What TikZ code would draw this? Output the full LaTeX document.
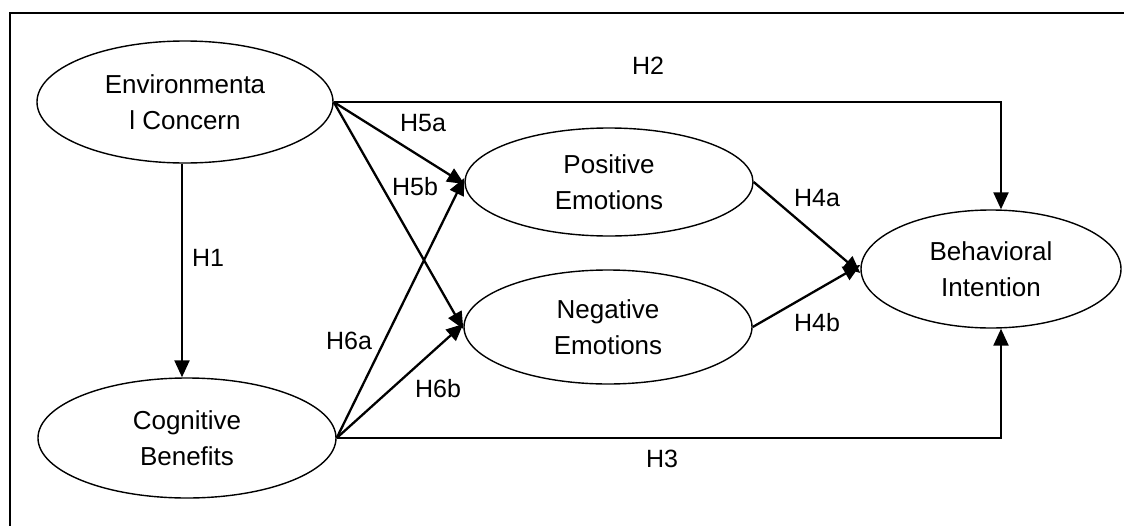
\documentclass[tikz,border=0pt]{standalone}
\usepackage{fontspec}
\setmainfont{Liberation Sans}
\usetikzlibrary{shapes.geometric,arrows.meta}
\begin{document}
\begin{tikzpicture}[x=1pt,y=-1pt,
  construct/.style={draw, line width=1.4pt, ellipse, inner sep=0pt, align=center,
     font=\fontsize{26}{36}\selectfont},
  hlabel/.style={inner sep=0pt, font=\fontsize{25}{30}\selectfont},
  hpath/.style={draw, line width=2.3pt, -{Triangle[length=17pt,width=15pt]}},
  frameline/.style={draw, line width=2pt}]
\useasboundingbox (0,0) rectangle (1124,525);
\draw[frameline] (10,530) -- (10,13) -- (1130,13);

\node[construct, minimum width=296pt, minimum height=122pt] (EC) at (185,102) {Environmenta\\l Concern};
\node[construct, minimum width=298pt, minimum height=120pt] (CB) at (187,438) {Cognitive\\Benefits};
\node[construct, minimum width=288pt, minimum height=108pt] (PE) at (609,182) {Positive\\Emotions};
\node[construct, minimum width=288pt, minimum height=114pt] (NE) at (608,327) {Negative\\Emotions};
\node[construct, minimum width=260pt, minimum height=118pt] (BI) at (991,269) {Behavioral\\Intention};

\draw[hpath] (EC.south -| 182,0) -- (CB.north -| 182,0);
\draw[hpath] (EC.east) -| ([xshift=10pt]BI.north);
\draw[hpath] (CB.east) -| ([xshift=10pt]BI.south);
\draw[hpath] (EC.east) -- ([yshift=-2pt]PE.west);
\draw[hpath] (EC.east) -- ([yshift=-2pt]NE.west);
\draw[hpath] (CB.east) -- ([yshift=4pt]PE.west);
\draw[hpath] (CB.east) -- ([yshift=3pt]NE.west);
\draw[hpath] (PE.east) -- ([yshift=-4pt]BI.west);
\draw[hpath] (NE.east) -- ([yshift=4pt]BI.west);

\node[hlabel] (h1) at (208,258) {H1};
\node[hlabel] (h2) at (648,66) {H2};
\node[hlabel] (h3) at (662,459) {H3};
\node[hlabel] (h4a) at (817,198) {H4a};
\node[hlabel] (h4b) at (817,323) {H4b};
\node[hlabel] (h5a) at (423,123) {H5a};
\node[hlabel] (h5b) at (415,187) {H5b};
\node[hlabel] (h6a) at (349,341) {H6a};
\node[hlabel] (h6b) at (438,389) {H6b};
\end{tikzpicture}
\end{document}
